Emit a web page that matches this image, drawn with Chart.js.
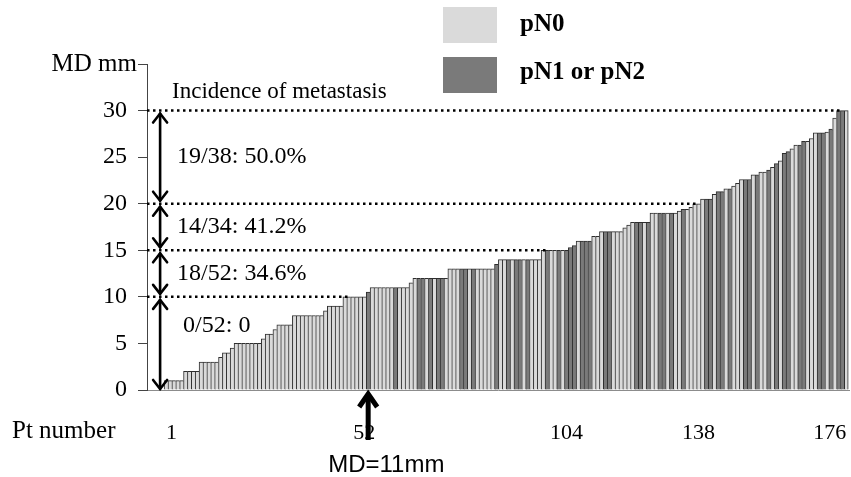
<!DOCTYPE html>
<html>
<head>
<meta charset="utf-8">
<script src="https://cdn.jsdelivr.net/npm/chart.js@4.4.1/dist/chart.umd.min.js"></script>
<style>
  html, body { margin: 0; padding: 0; background: #fff; }
  #wrap { width: 851px; height: 477px; position: relative; }
</style>
</head>
<body>
<div id="wrap"><canvas id="chart"></canvas></div>
<script>
/* ── data ── */
// MD (mm) for each patient, sorted ascending (Pt 1 … 176)
const mdValues = [
  1, 1, 1, 1, 1, 2, 2, 2, 2, 3, 3, 3, 3, 3, 3.5, 4, 4, 4.5, 5, 5, 5, 5, 5, 5, 5, 5.5,
  6, 6, 6.5, 7, 7, 7, 7, 8, 8, 8, 8, 8, 8, 8, 8, 8.5, 9, 9, 9, 9, 10, 10, 10, 10, 10, 10,
  10.5, 11, 11, 11, 11, 11, 11, 11, 11, 11, 11, 11.5, 12, 12, 12, 12, 12, 12, 12, 12, 12,
  13, 13, 13, 13, 13, 13, 13, 13, 13, 13, 13, 13, 13.5, 14, 14, 14, 14, 14, 14, 14, 14, 14,
  14, 14, 15, 15, 15, 15, 15, 15, 15,
  15.3, 15.5, 16, 16, 16, 16, 16.5, 16.5, 17, 17, 17, 17, 17, 17, 17.4, 17.7, 18, 18, 18,
  18, 18, 19, 19, 19, 19, 19, 19, 19, 19.2, 19.4, 19.4, 19.6, 20, 20,
  20.5, 20.5, 20.5, 21, 21.3, 21.3, 21.6, 21.6, 21.9, 22.2, 22.6, 22.6, 22.6, 23.1, 23.1,
  23.4, 23.4, 23.6, 23.9, 24.3, 24.6, 25.4, 25.6, 25.9, 26.3, 26.3, 26.7, 26.7, 27, 27.6,
  27.6, 27.6, 27.7, 28, 29.2, 30, 30, 30
];
// 0 = pN0, 1 = pN1 or pN2 (same order as mdValues)
const nodeStatus = [
  // Pt 1-52
  0, 0, 0, 0, 0, 0, 0, 0, 0, 0, 0, 0, 0, 0, 0, 0, 0, 0, 0, 0, 0, 0, 0, 0, 0, 0,
  0, 0, 0, 0, 0, 0, 0, 0, 0, 0, 0, 0, 0, 0, 0, 0, 0, 0, 0, 0, 0, 0, 0, 0, 0, 0,
  // Pt 53-104
  1, 0, 0, 0, 0, 0, 0, 1, 0, 0, 0, 0, 0, 1, 1, 0, 1, 0, 1, 1, 0, 0, 0, 0, 1, 1,
  0, 1, 0, 0, 0, 0, 0, 1, 0, 0, 1, 0, 1, 1, 0, 1, 0, 0, 0, 0, 1, 0, 0, 1, 0, 1,
  // Pt 105-138
  1, 1, 0, 1, 1, 1, 0, 0, 0, 1, 1, 0, 0, 0, 0, 0, 0, 1, 1, 0, 1, 0, 0, 1, 1, 0,
  1, 0, 0, 1, 0, 0, 0, 0,
  // Pt 139-176
  0, 1, 1, 0, 1, 1, 0, 1, 0, 0, 0, 1, 1, 0, 1, 0, 0, 1, 0, 1, 0, 1, 1, 0, 0, 1,
  1, 0, 0, 0, 1, 1, 0, 1, 0, 1, 1, 0
];
const xTickValues = [1, 52, 104, 138, 176];
const levels = [0, 10, 15, 20, 30];
const bandLabels = ['0/52: 0', '18/52: 34.6%', '14/34: 41.2%', '19/38: 50.0%'];
const legendLabels = ['pN0', 'pN1 or pN2'];

/* ── look ── */
const LIGHT = '#dadada';
const DARK = '#7a7a7a';
const EDGE = '#2e2e2e';
const SERIF = '"Liberation Serif", "Times New Roman", serif';

/* ── annotations: dotted levels, double arrows, texts, legend ── */
function arrowHead(ctx, x, y, dir) {
  ctx.beginPath();
  ctx.moveTo(x - 7, y + dir * 9);
  ctx.lineTo(x, y);
  ctx.lineTo(x + 7, y + dir * 9);
  ctx.stroke();
}

const overlay = {
  id: 'overlay',
  afterDatasetsDraw(chart) {
    const { ctx, chartArea: a, scales: { x, y } } = chart;
    ctx.save();

    // dotted level lines
    ctx.strokeStyle = '#000';
    ctx.lineWidth = 2.5;
    ctx.setLineDash([2.5, 3.5]);
    levels.slice(1).forEach(lv => {
      const i = mdValues.findIndex(v => v >= lv);
      const xe = Math.min(a.right, x.getPixelForValue(i + 1) + 4);
      const yy = y.getPixelForValue(lv);
      ctx.beginPath();
      ctx.moveTo(a.left, yy);
      ctx.lineTo(xe, yy);
      ctx.stroke();
    });
    ctx.setLineDash([]);

    // double arrows between levels
    const ax = x.getPixelForValue(0.5) - 4;
    ctx.lineWidth = 2.6;
    ctx.lineCap = 'round';
    for (let k = 0; k < levels.length - 1; k++) {
      const top = y.getPixelForValue(levels[k + 1]) + 3;
      const bot = y.getPixelForValue(levels[k]) - (k === 0 ? 1 : 3);
      ctx.beginPath();
      ctx.moveTo(ax, top);
      ctx.lineTo(ax, bot);
      ctx.stroke();
      arrowHead(ctx, ax, top, 1);
      arrowHead(ctx, ax, bot, -1);
    }

    // band texts
    ctx.fillStyle = '#000';
    ctx.font = '24px ' + SERIF;
    ctx.textBaseline = 'middle';
    ctx.textAlign = 'left';
    bandLabels.forEach((t, k) => {
      const f = k === 0 ? 0.69 : 0.5;
      const v = levels[k] + (levels[k + 1] - levels[k]) * f;
      ctx.fillText(t, ax + (k === 0 ? 23 : 17), y.getPixelForValue(v));
    });
    ctx.font = '23px ' + SERIF;
    ctx.fillText('Incidence of metastasis', ax + 12, y.getPixelForValue(32));

    // axis captions
    ctx.font = '25px ' + SERIF;
    ctx.textAlign = 'right';
    ctx.fillText('MD mm', a.left - 10, y.getPixelForValue(35));
    ctx.textAlign = 'left';
    ctx.fillText('Pt number', 12, a.bottom + 41);

    // MD=11mm arrow under the first node-positive case
    const mx = x.getPixelForValue(nodeStatus.indexOf(1) + 1);
    ctx.lineWidth = 5;
    ctx.lineCap = 'butt';
    ctx.beginPath();
    ctx.moveTo(mx, a.bottom + 50);
    ctx.lineTo(mx, a.bottom + 4);
    ctx.stroke();
    ctx.lineJoin = 'miter';
    ctx.beginPath();
    ctx.moveTo(mx - 9, a.bottom + 17);
    ctx.lineTo(mx, a.bottom + 4);
    ctx.lineTo(mx + 9, a.bottom + 17);
    ctx.stroke();
    ctx.font = '24px "Liberation Sans", Arial, sans-serif';
    ctx.textAlign = 'left';
    ctx.fillText('MD=11mm', mx - 40, a.bottom + 75);

    // legend
    [LIGHT, DARK].forEach((c, k) => {
      ctx.fillStyle = c;
      ctx.fillRect(443, 7 + k * 50, 54, 36);
      ctx.fillStyle = '#000';
      ctx.font = 'bold 25px ' + SERIF;
      ctx.fillText(legendLabels[k], 520, 25 + k * 48);
    });

    ctx.restore();
  }
};

function noEdgePadding(s) {
  s.paddingLeft = 0; s.paddingRight = 0;
  s.paddingTop = 0; s.paddingBottom = 0;
}

/* ── chart ── */
const last = mdValues.length - 1;
new Chart(document.getElementById('chart'), {
  type: 'bar',
  data: {
    datasets: [{
      data: mdValues.map((v, i) => ({ x: i + 1, y: v })),
      backgroundColor: nodeStatus.map(s => s ? DARK : LIGHT),
      borderColor: EDGE,
      borderWidth: c => ({ left: 1, top: 1, bottom: 0, right: c.dataIndex === last ? 1 : 0 }),
      borderSkipped: false,
      categoryPercentage: 1,
      barPercentage: 1
    }]
  },
  options: {
    responsive: true,
    maintainAspectRatio: false,
    animation: false,
    layout: { padding: { left: 0, top: 64, right: 2, bottom: 0 } },
    plugins: { legend: { display: false }, tooltip: { enabled: false } },
    scales: {
      x: {
        type: 'linear',
        offset: false,
        min: -3.9, max: 176.7,
        afterBuildTicks: s => { s.ticks = xTickValues.map(v => ({ value: v })); },
        afterFit: s => { s.height = 87; noEdgePadding(s); },
        grid: { display: false, drawTicks: false },
        border: { display: true, color: '#8c8c8c', width: 1 },
        ticks: {
          padding: 30, color: '#000', maxRotation: 0, align: 'inner',
          font: { family: SERIF, size: 22 }
        }
      },
      y: {
        min: 0, max: 35,
        afterFit: s => { s.width = 147; noEdgePadding(s); },
        afterBuildTicks: s => {
          const t = [];
          for (let v = 0; v <= 35; v += 2.5) t.push({ value: v });
          s.ticks = t;
        },
        grid: {
          drawOnChartArea: false,
          tickLength: 9,
          tickColor: '#444',
          tickBorderDash: c => (c.tick && c.tick.value % 5) ? [4, 5] : [],
          tickBorderDashOffset: 4
        },
        border: { display: true, color: '#444', width: 1 },
        ticks: {
          padding: 11,
          color: '#000',
          font: { family: SERIF, size: 24 },
          callback: v => (v % 5 === 0 && v < 35) ? v : ''
        }
      }
    }
  },
  plugins: [overlay]
});
</script>
</body>
</html>
